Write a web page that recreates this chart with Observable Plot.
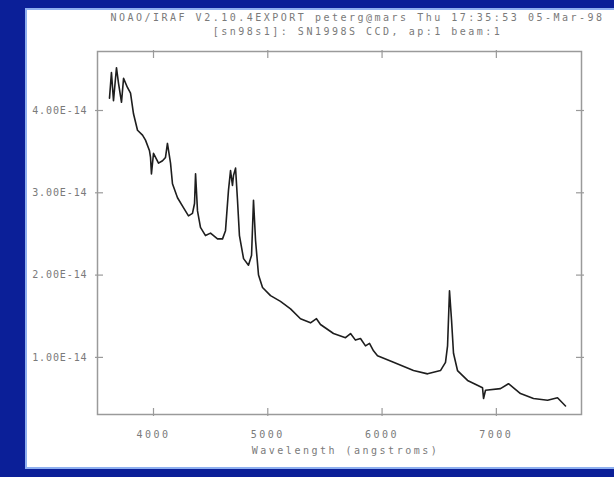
<!DOCTYPE html>
<html>
<head>
<meta charset="utf-8">
<script src="https://cdn.jsdelivr.net/npm/d3@7"></script>
<script src="https://cdn.jsdelivr.net/npm/@observablehq/plot@0.6"></script>
<style>
  html, body { margin: 0; padding: 0; }
  body { width: 614px; height: 477px; background: #0b1f98; position: relative; overflow: hidden; }
  #panel { position: absolute; left: 27px; top: 10px; width: 587px; height: 457px; background: #fff;
           box-shadow: 0 0 0 2px #8fb0f0; }
  #chart { position: absolute; left: 0; top: 0; }
  #chart svg { background: transparent; }
  [aria-label="y-axis tick label"] text { letter-spacing: 0.9px; }
</style>
</head>
<body>
<div id="panel"></div>
<div id="chart"></div>
<script>
// SN 1998S spectrum, flux in units of 1e-14
const wavelength = [3615, 3632, 3650, 3676, 3694, 3720, 3738, 3772, 3799, 3825, 3860, 3904, 3930, 3965, 3974, 3982,
  4000, 4044, 4079, 4105, 4122, 4149, 4166, 4210, 4262, 4306, 4341, 4359, 4368, 4385, 4411, 4455, 4499, 4560, 4604,
  4630, 4656, 4674, 4691, 4700, 4718, 4735, 4752, 4788, 4831, 4858, 4875, 4893, 4919, 4954, 5024, 5111, 5199, 5286,
  5374, 5426, 5461, 5575, 5680, 5724, 5767, 5811, 5855, 5890, 5925, 5960, 6100, 6275, 6398, 6511, 6555, 6573, 6590,
  6608, 6625, 6660, 6748, 6879, 6888, 6905, 7036, 7106, 7211, 7325, 7448, 7535, 7605];
const flux = [4.15, 4.46, 4.12, 4.52, 4.33, 4.10, 4.39, 4.28, 4.21, 3.96, 3.76, 3.70, 3.64, 3.51, 3.43, 3.23,
  3.48, 3.36, 3.39, 3.43, 3.60, 3.36, 3.11, 2.94, 2.82, 2.72, 2.75, 2.87, 3.23, 2.78, 2.58, 2.48, 2.51, 2.44, 2.44,
  2.54, 3.03, 3.27, 3.09, 3.21, 3.30, 2.91, 2.48, 2.20, 2.12, 2.24, 2.91, 2.42, 2.00, 1.85, 1.75, 1.68, 1.59, 1.47,
  1.42, 1.47, 1.40, 1.29, 1.24, 1.29, 1.21, 1.23, 1.14, 1.17, 1.08, 1.02, 0.94, 0.84, 0.80, 0.84, 0.94, 1.14, 1.81,
  1.45, 1.05, 0.84, 0.72, 0.63, 0.50, 0.60, 0.62, 0.68, 0.56, 0.50, 0.48, 0.51, 0.41];

const xTicks = [4000, 5000, 6000, 7000];
const yTicks = [1, 2, 3, 4];
const yTickLabels = ["1.00E-14", "2.00E-14", "3.00E-14", "4.00E-14"];

const titleLine1 = "NOAO/IRAF V2.10.4EXPORT peterg@mars Thu 17:35:53 05-Mar-98";
const titleLine2 = "[sn98s1]: SN1998S CCD, ap:1 beam:1";
const xLabel = "Wavelength (angstroms)";

const spectrum = wavelength.map((w, i) => ({w, f: flux[i]}));

const textGray = "#7a7a7a";
const frameGray = "#9a9a9a";
const noLabel = () => "";

const chart = Plot.plot({
  width: 614,
  height: 477,
  marginLeft: 97,
  marginRight: 33,
  marginTop: 51,
  marginBottom: 63,
  style: {fontFamily: "DejaVu Sans Mono", fontSize: "10px", letterSpacing: "2.5px", background: "transparent"},
  x: {domain: [3510, 7745]},
  y: {domain: [0.306, 4.717]},
  marks: [
    Plot.frame({stroke: frameGray, strokeWidth: 1.5}),
    // tick labels
    Plot.axisX({ticks: xTicks, tickSize: 0, tickPadding: 16, fill: textGray, tickFormat: d => String(d), label: null}),
    Plot.axisY({ticks: yTicks, tickSize: 0, tickPadding: 10, fill: textGray,
      tickFormat: d => yTickLabels[yTicks.indexOf(d)], label: null}),
    // inward tick marks on all four sides, poking slightly outside the frame
    Plot.axisX({ticks: xTicks, tickSize: 8, dy: -6, stroke: frameGray, strokeWidth: 1.2, tickFormat: noLabel, label: null}),
    Plot.axisX({anchor: "top", ticks: xTicks, tickSize: 8, dy: 6, stroke: frameGray, strokeWidth: 1.2, tickFormat: noLabel, label: null}),
    Plot.axisY({ticks: yTicks, tickSize: 8, dx: 6, stroke: frameGray, strokeWidth: 1.2, tickFormat: noLabel, label: null}),
    Plot.axisY({anchor: "right", ticks: yTicks, tickSize: 8, dx: -6, stroke: frameGray, strokeWidth: 1.2, tickFormat: noLabel, label: null}),
    Plot.line(spectrum, {x: "w", y: "f", stroke: "#1e1e1e", strokeWidth: 1.6, strokeLinejoin: "round"}),
    Plot.text([titleLine1], {frameAnchor: "top", dx: 18, dy: -34, fill: textGray, lineAnchor: "middle"}),
    Plot.text([titleLine2], {frameAnchor: "top", dx: 18, dy: -20, fill: textGray, lineAnchor: "middle"}),
    Plot.text([xLabel], {frameAnchor: "bottom", dx: 6, dy: 36, fill: textGray, lineAnchor: "middle"})
  ]
});
document.getElementById("chart").appendChild(chart);
</script>
</body>
</html>
